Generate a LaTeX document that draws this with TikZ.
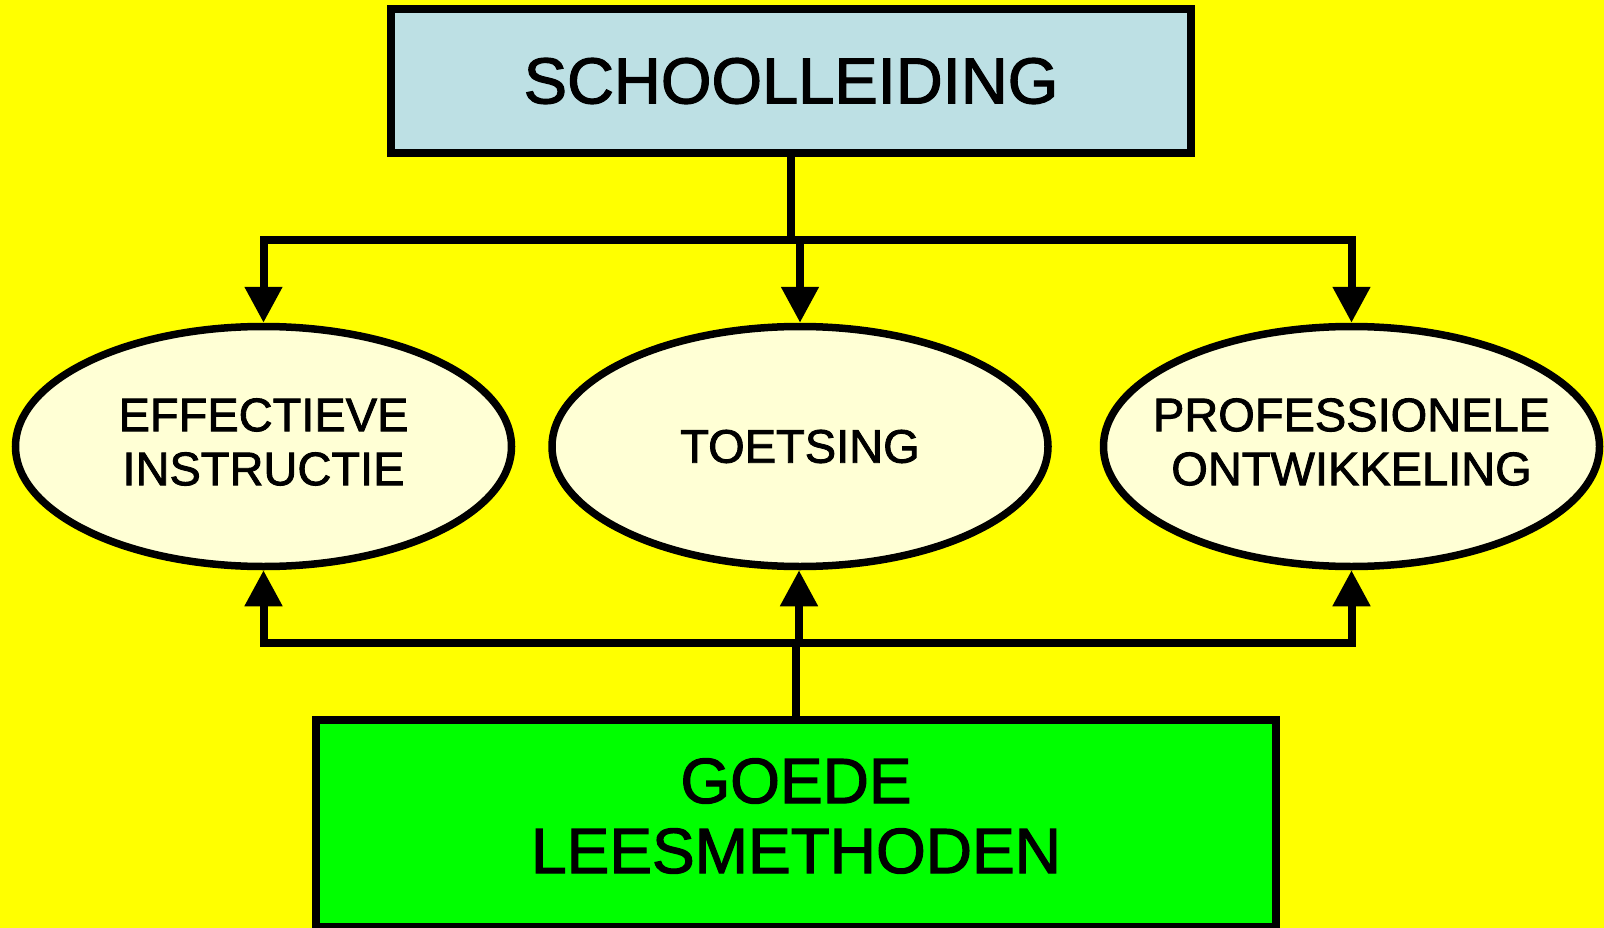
\documentclass[tikz,border=0pt]{standalone}
\usepackage{fontspec}
\setmainfont{Liberation Sans}[FakeBold=1.8]
\usetikzlibrary{shapes.geometric,arrows.meta}
\definecolor{bgyellow}{RGB}{255,255,0}
\definecolor{topblue}{RGB}{189,224,228}
\definecolor{cream}{RGB}{255,255,213}
\definecolor{boxgreen}{RGB}{0,255,0}
\tikzset{
  bigbox/.style={draw=black, line width=8pt, rectangle, inner sep=0pt, align=center},
  oval/.style={draw=black, line width=7.5pt, ellipse, fill=cream, inner sep=0pt,
    minimum width=496pt, minimum height=240pt},
  ovaltext/.style={align=center, inner sep=0pt, font=\fontsize{47}{54}\selectfont},
  conn/.style={draw=black, line width=8pt, line join=miter},
  arr/.style={conn, -{Triangle[width=36pt,length=36pt]}}
}
\begin{document}
\begin{tikzpicture}[x=1pt,y=-1pt]
\fill[bgyellow] (0,0) rectangle (1604,928);
\useasboundingbox (0,0) rectangle (1604,928);
\node[bigbox, fill=topblue, minimum width=800pt, minimum height=144pt,
  font=\fontsize{65}{70}\selectfont] (top) at (791,81) {SCHOOLLEIDING};
\node[bigbox, fill=boxgreen, minimum width=960pt, minimum height=207pt] (bot) at (796,823.5) {};
\node[align=center, inner sep=0pt, font=\fontsize{64}{70}\selectfont] (bottxt) at (796,816) {GOEDE\\LEESMETHODEN};
\node[oval] (e1) at (263.5,446.5) {};
\node[oval] (e2) at (800,446.5) {};
\node[oval] (e3) at (1351.5,446.5) {};
\node[ovaltext] (t1) at (263.5,442) {EFFECTIEVE\\INSTRUCTIE};
\node[ovaltext] (t2) at (800,446.5) {TOETSING};
\node[ovaltext] (t3) at (1351.5,442) {PROFESSIONELE\\ONTWIKKELING};
\coordinate (jt) at (791,240);
\coordinate (jb) at (796,643);
\draw[conn] (top.south) -- (jt);
\draw[arr] (jt) -| (e1.north);
\draw[arr] (jt) -| (e3.north);
\draw[arr] (e2.north |- jt) -- (e2.north);
\draw[conn] (bot.north) -- (jb);
\draw[arr] (jb) -| (e1.south);
\draw[arr] (jb) -| (e3.south);
\draw[arr] ([xshift=-1pt]e2.south |- jb) -- ([xshift=-1pt]e2.south);
\end{tikzpicture}
\end{document}
